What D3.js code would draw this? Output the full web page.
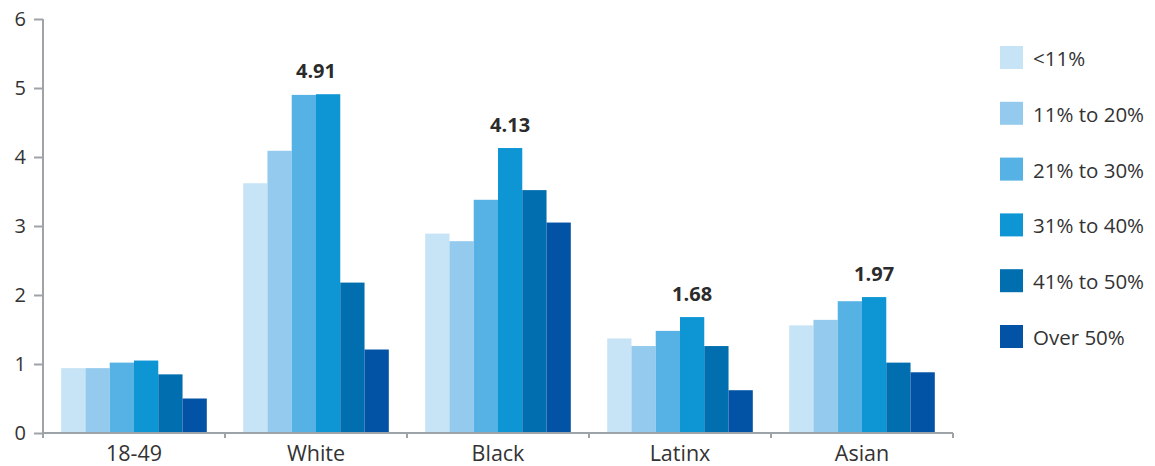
<!DOCTYPE html>
<html><head><meta charset="utf-8">
<script src="https://cdn.jsdelivr.net/npm/d3@7"></script>
<style>
body{margin:0;background:#fff;}
text{font-family:"Open Sans",sans-serif;}
</style></head>
<body><svg id="chart" width="1155" height="466"></svg>
<script>
const categories = ["18-49","White","Black","Latinx","Asian"];
const seriesNames = ["<11%","11% to 20%","21% to 30%","31% to 40%","41% to 50%","Over 50%"];
const s1 = [0.94,3.62,2.89,1.37,1.56];
const s2 = [0.94,4.09,2.78,1.26,1.64];
const s3 = [1.02,4.90,3.38,1.48,1.91];
const s4 = [1.05,4.91,4.13,1.68,1.97];
const s5 = [0.85,2.18,3.52,1.26,1.02];
const s6 = [0.50,1.21,3.05,0.62,0.88];
const seriesValues = [s1,s2,s3,s4,s5,s6];
const colors = ["#c7e4f6","#93caed","#56b2e4","#0e96d4","#016faf","#0253a6"];
const yTicks = [0,1,2,3,4,5,6];
const highlightLabels = ["","4.91","4.13","1.68","1.97"];

const svg = d3.select("#chart");
const x0 = d3.scaleBand().domain(categories).range([43,953]).paddingInner(0.2).paddingOuter(0.1);
const x1 = d3.scaleBand().domain(d3.range(seriesNames.length)).range([0,x0.bandwidth()]);
const y = d3.scaleLinear().domain([0,6]).range([433,19]);
const axisColor = "#9ea3a8";

// bars
categories.forEach((c,ci)=>{
  const g = svg.append("g").attr("transform",`translate(${x0(c)},0)`);
  const vals = seriesValues.map(v=>v[ci]);
  seriesValues.forEach((v,si)=>{
    g.append("rect").attr("x",x1(si)).attr("width",x1.bandwidth())
      .attr("y",y(v[ci])).attr("height",y(0)-y(v[ci])).attr("fill",colors[si]);
  });
  if(highlightLabels[ci]){
    const mx = d3.max(vals);
    const top = d3.range(vals.length).filter(i=>vals[i]>=mx-0.02);
    const cx = (x1(top[0]) + x1(top[top.length-1]) + x1.bandwidth())/2;
    g.append("text").attr("x",cx).attr("y",y(mx)-16)
      .attr("text-anchor","middle").attr("font-size",20).attr("font-weight",700).attr("fill","#2b2b2b")
      .text(highlightLabels[ci]);
  }
});

// y axis
const yAxis = svg.append("g").attr("transform","translate(43,0)")
  .call(d3.axisLeft(y).tickValues(yTicks).tickFormat(d3.format("d")).tickSize(9).tickPadding(8));
yAxis.select(".domain").attr("stroke",axisColor).attr("stroke-width",2).attr("d","M0,19V433");
yAxis.selectAll(".tick line").attr("stroke",axisColor).attr("stroke-width",2);
yAxis.selectAll(".tick text").attr("font-size",20).attr("fill","#333").attr("font-family","Open Sans");

// x axis
const xAxis = svg.append("g").attr("transform","translate(0,433)");
xAxis.append("line").attr("x1",43).attr("x2",953).attr("stroke",axisColor).attr("stroke-width",2);
const boundaries = categories.map(c=>x0(c)-x0.step()*x0.paddingInner()/2).concat([953]);
boundaries[0]=43;
xAxis.selectAll("line.tk").data(boundaries).enter().append("line").attr("class","tk")
  .attr("x1",d=>d).attr("x2",d=>d).attr("y1",0).attr("y2",5).attr("stroke",axisColor).attr("stroke-width",2);
xAxis.selectAll("text").data(categories).enter().append("text")
  .attr("x",d=>x0(d)+x0.bandwidth()/2).attr("y",27.5).attr("text-anchor","middle")
  .attr("font-size",21.5).attr("fill","#333").text(d=>d);

// legend
const lg = svg.append("g").attr("transform","translate(1000,46)");
seriesNames.forEach((n,i)=>{
  const r = lg.append("g").attr("transform",`translate(0,${i*55.8})`);
  r.append("rect").attr("width",23).attr("height",23).attr("fill",colors[i]);
  r.append("text").attr("x",33).attr("y",20).attr("font-size",20.5).attr("fill","#333").text(n);
});
</script></body></html>
